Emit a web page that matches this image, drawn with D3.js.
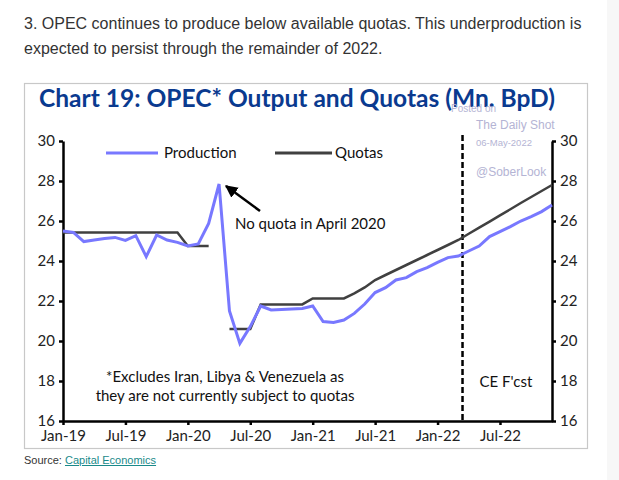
<!DOCTYPE html>
<html>
<head>
<meta charset="utf-8">
<script src="https://cdn.jsdelivr.net/npm/d3@7"></script>
<style>
  html, body { margin: 0; padding: 0; background: #fff; }
  body { width: 619px; height: 480px; overflow: hidden; position: relative; }
  #strip { position: absolute; left: 607px; top: 0; width: 12px; height: 480px; background: #f7f7f7; }
  .intro { position: absolute; left: 24px; top: 11px; width: 580px; font-family: "Liberation Sans", Arial, sans-serif; font-size: 16px; line-height: 25px; color: #333; }
  .src { position: absolute; left: 24px; top: 454px; font-family: "Liberation Sans", Arial, sans-serif; font-size: 11px; color: #333; }
  .src a { color: #1a8a8a; text-decoration: underline; }
  svg { position: absolute; left: 0; top: 0; }
</style>
</head>
<body>
<div id="strip"></div>
<div class="intro">3. OPEC continues to produce below available quotas. This underproduction is expected to persist through the remainder of 2022.</div>
<div class="src">Source: <a>Capital Economics</a></div>
<svg id="chart" width="619" height="480"></svg>
<script>
// ---- data ----
const production = [25.5, 25.43, 24.97, 25.05, 25.12, 25.18, 25.03, 25.27, 24.22, 25.3, 25.05, 24.93,
  24.75, 24.85, 25.88, 27.85, 21.5, 19.88, 20.72, 21.75, 21.55, 21.58, 21.6, 21.63,
  21.75, 20.97, 20.93, 21.05, 21.38, 21.85, 22.42, 22.67, 23.05, 23.17, 23.47, 23.67,
  23.93, 24.17, 24.25, 24.5, 24.75, 25.22, 25.47, 25.72, 26.0, 26.22, 26.47, 26.8];
const quotas = [25.42, 25.42, 25.42, 25.42, 25.42, 25.42, 25.42, 25.42, 25.42, 25.42, 25.42, 25.42,
  24.75, 24.75, 24.75, null, 20.6, 20.6, 20.6, 21.83, 21.83, 21.83, 21.83, 21.83,
  22.13, 22.13, 22.13, 22.13, 22.38, 22.68, 23.05, 23.3, 23.55, 23.8, 24.05, 24.3,
  24.55, 24.8, 25.05, 25.36, 25.67, 25.97, 26.28, 26.59, 26.9, 27.2, 27.5, 27.8];
const yTicks = [16, 18, 20, 22, 24, 26, 28, 30];
const xTickLabels = ["Jan-19", "Jul-19", "Jan-20", "Jul-20", "Jan-21", "Jul-21", "Jan-22", "Jul-22"];
const forecastStart = 38.4; // months after Jan-19 (mid-March 2022)
const seriesNames = ["Production", "Quotas"];

// ---- layout ----
const svg = d3.select("#chart");
const L = 63, R = 552, T = 141, B = 421;
const x = d3.scaleLinear().domain([0, 47]).range([L, R]);
const y = d3.scaleLinear().domain([16, 30]).range([B, T]);
const chartFont = "Lato, 'Open Sans', sans-serif";
const prodColor = "#7878ff";
const quotaColor = "#404040";

// frame
svg.append("rect").attr("x", 24.5).attr("y", 83.5).attr("width", 563).attr("height", 365)
  .attr("fill", "none").attr("stroke", "#c8c8c8").attr("stroke-width", 1.2);

// title
svg.append("text").attr("x", 297).attr("y", 107).attr("text-anchor", "middle")
  .attr("font-family", chartFont).attr("font-weight", "bold").attr("font-size", 25)
  .attr("fill", "#0a3a8f").attr("textLength", 516).attr("lengthAdjust", "spacingAndGlyphs")
  .text("Chart 19: OPEC* Output and Quotas (Mn. BpD)");

// watermark
const wm = svg.append("g").attr("font-family", "'Liberation Sans', Arial, sans-serif").attr("fill", "#b4b4d4");
wm.append("text").attr("x", 451).attr("y", 112).attr("font-size", 10).text("Posted on");
wm.append("text").attr("x", 476).attr("y", 129).attr("font-size", 12).text("The Daily Shot");
wm.append("text").attr("x", 476).attr("y", 146).attr("font-size", 9.5).text("06-May-2022");
wm.append("text").attr("x", 476).attr("y", 176).attr("font-size", 12).text("@SoberLook");

function tickIdx(lbl) { const yy = +lbl.slice(4); const m = lbl.startsWith("Jan") ? 0 : 6; return (2000 + yy - 2019) * 12 + m; }

// axes
const axG = svg.append("g").attr("font-family", chartFont);
const yLeft = d3.axisLeft(y).tickValues(yTicks).tickSize(4).tickFormat(d3.format("d"));
const yRight = d3.axisRight(y).tickValues(yTicks).tickSize(4).tickFormat(d3.format("d"));
const xAxis = d3.axisBottom(x).tickValues(xTickLabels.map(tickIdx)).tickSize(4)
  .tickFormat((d, i) => xTickLabels[i]);

function styleAxis(g) {
  g.select(".domain").attr("stroke", "#000").attr("stroke-width", 2.5);
  g.selectAll(".tick line").attr("stroke", "#000").attr("stroke-width", 2.5);
  g.selectAll(".tick text").attr("fill", "#222").attr("font-size", 15).attr("font-family", chartFont);
}
const gl = axG.append("g").attr("transform", `translate(${L},0)`).call(yLeft.tickSizeOuter(0));
styleAxis(gl); gl.selectAll(".tick text").attr("x", -8).attr("dy", "0.3em");
const gr = axG.append("g").attr("transform", `translate(${R},0)`).call(yRight.tickSizeOuter(0));
styleAxis(gr); gr.selectAll(".tick text").attr("x", 8).attr("dy", "0.3em");
const gx = axG.append("g").attr("transform", `translate(0,${B})`).call(xAxis.tickSizeOuter(0));
styleAxis(gx); gx.selectAll(".tick text").attr("y", 9);

// forecast dashed line
svg.append("line").attr("x1", x(forecastStart)).attr("x2", x(forecastStart))
  .attr("y1", y(30) - 6).attr("y2", B).attr("stroke", "#000").attr("stroke-width", 2.5)
  .attr("stroke-dasharray", "6,3");

// lines
const lineGen = d3.line().defined(d => d != null).x((d, i) => x(i)).y(d => y(d));
svg.append("path").datum(quotas).attr("d", lineGen).attr("fill", "none")
  .attr("stroke", quotaColor).attr("stroke-width", 2.5);
svg.append("path").datum(production).attr("d", lineGen).attr("fill", "none")
  .attr("stroke", prodColor).attr("stroke-width", 3);

// legend
const lg = svg.append("g").attr("font-family", chartFont).attr("font-size", 15).attr("fill", "#111");
lg.append("line").attr("x1", 106).attr("x2", 158).attr("y1", 153).attr("y2", 153).attr("stroke", prodColor).attr("stroke-width", 3);
lg.append("text").attr("x", 164).attr("y", 158).text(seriesNames[0]);
lg.append("line").attr("x1", 275).attr("x2", 332).attr("y1", 153).attr("y2", 153).attr("stroke", quotaColor).attr("stroke-width", 3);
lg.append("text").attr("x", 335).attr("y", 158).text(seriesNames[1]);

// annotation arrow
svg.append("defs").append("marker").attr("id", "ah").attr("viewBox", "0 0 10 10")
  .attr("refX", 9).attr("refY", 5).attr("markerWidth", 5).attr("markerHeight", 5).attr("orient", "auto")
  .attr("markerUnits", "strokeWidth")
  .append("path").attr("d", "M0,0 L10,5 L0,10 z").attr("fill", "#000");
svg.append("line").attr("x1", 260).attr("y1", 211).attr("x2", 226).attr("y2", 186)
  .attr("stroke", "#000").attr("stroke-width", 2.5).attr("marker-end", "url(#ah)");

const ann = svg.append("g").attr("font-family", chartFont).attr("font-size", 15).attr("fill", "#111");
ann.append("text").attr("x", 235).attr("y", 229).text("No quota in April 2020");
ann.append("text").attr("x", 225).attr("y", 382).attr("text-anchor", "middle").text("*Excludes Iran, Libya & Venezuela as");
ann.append("text").attr("x", 225).attr("y", 401).attr("text-anchor", "middle").text("they are not currently subject to quotas");
ann.append("text").attr("x", 506).attr("y", 387).attr("text-anchor", "middle").text("CE F'cst");
</script>
</body>
</html>
